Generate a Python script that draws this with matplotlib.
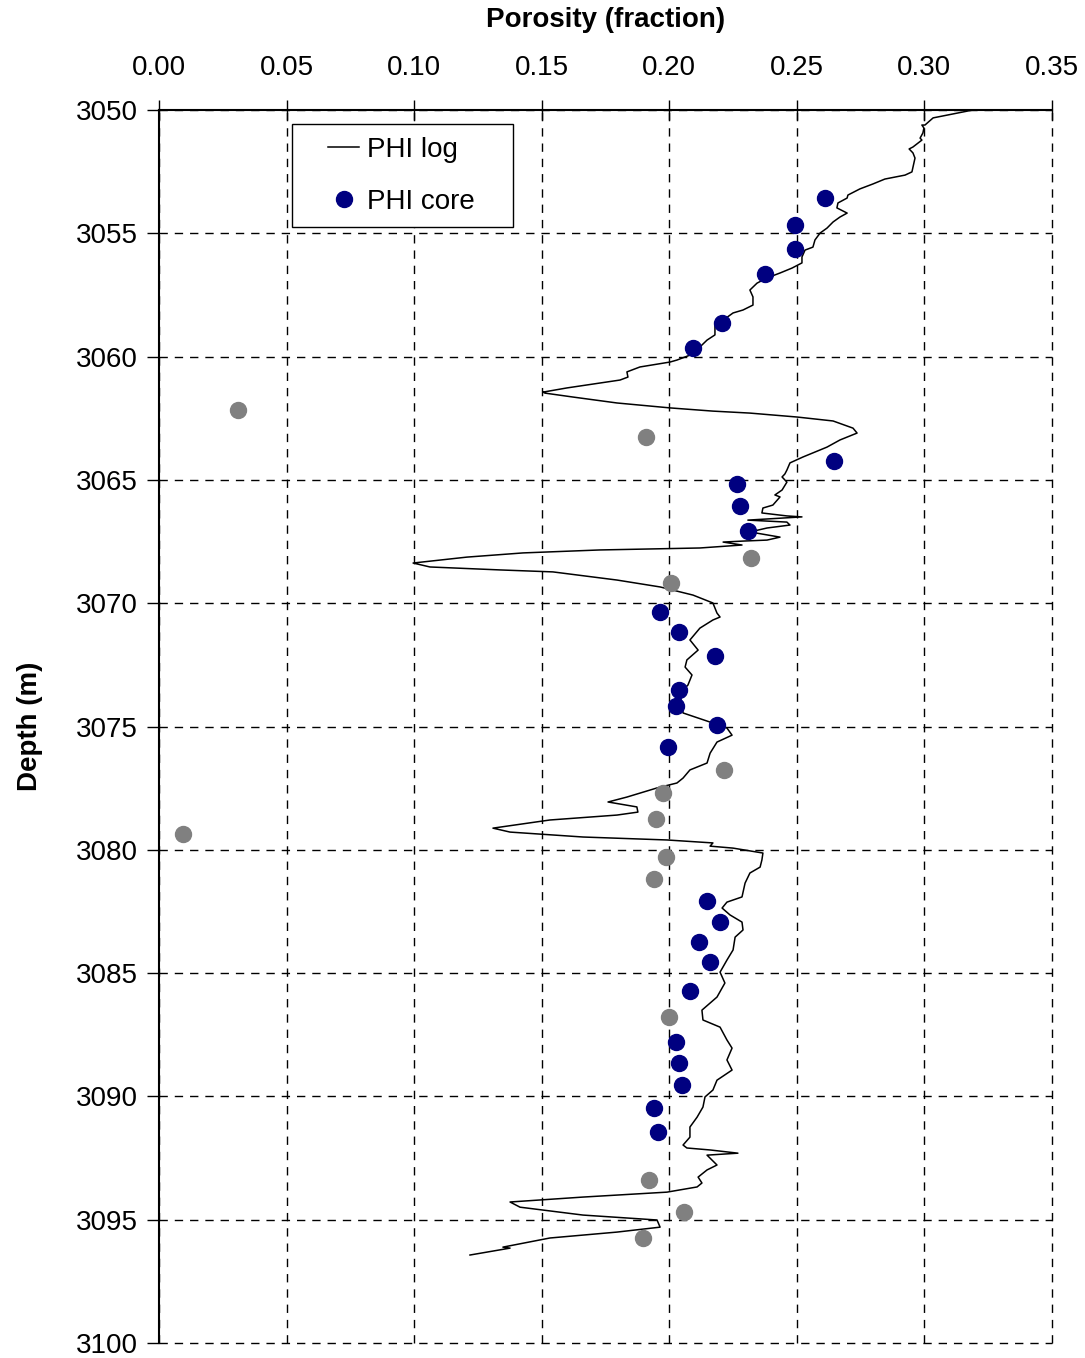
import matplotlib
matplotlib.use('Agg')
import matplotlib.pyplot as plt
from matplotlib.legend_handler import HandlerLine2D

# PHI log trace (depth in m, porosity as fraction)
log_depth = [
    3050.00, 3050.32, 3050.61, 3050.61, 3050.73, 3050.93, 3051.14, 3051.22, 3051.34, 3051.50,
    3051.58, 3051.74, 3051.95, 3052.31, 3052.51, 3052.64, 3052.72, 3052.80, 3053.00, 3053.20,
    3053.45, 3053.57, 3053.77, 3053.97, 3054.18, 3054.34, 3054.54, 3054.79, 3054.99, 3055.27,
    3055.56, 3055.68, 3055.96, 3056.20, 3056.41, 3056.61, 3056.81, 3057.02, 3057.30, 3057.58,
    3057.91, 3058.11, 3058.23, 3058.52, 3058.72, 3059.12, 3059.33, 3059.61, 3059.94, 3060.14,
    3060.22, 3060.42, 3060.62, 3060.83, 3060.95, 3061.07, 3061.27, 3061.44, 3061.48, 3061.64,
    3061.88, 3062.08, 3062.21, 3062.29, 3062.45, 3062.61, 3062.90, 3063.10, 3063.38, 3063.67,
    3064.07, 3064.31, 3064.60, 3064.76, 3064.88, 3065.09, 3065.41, 3065.61, 3065.69, 3066.02,
    3066.14, 3066.34, 3066.46, 3066.50, 3066.63, 3066.71, 3066.83, 3066.95, 3067.11, 3067.32,
    3067.44, 3067.48, 3067.52, 3067.64, 3067.76, 3067.84, 3067.96, 3068.13, 3068.37, 3068.53,
    3068.65, 3068.73, 3069.06, 3069.34, 3069.67, 3069.99, 3070.40, 3070.56, 3070.68, 3071.01,
    3071.49, 3071.90, 3072.30, 3072.59, 3072.91, 3073.32, 3073.64, 3074.45, 3074.82, 3075.06,
    3075.35, 3075.63, 3076.08, 3076.48, 3076.76, 3077.09, 3077.29, 3077.49, 3077.86, 3078.06,
    3078.26, 3078.47, 3078.59, 3078.79, 3079.12, 3079.28, 3079.48, 3079.60, 3079.72, 3079.85,
    3079.93, 3080.13, 3080.41, 3080.70, 3080.94, 3081.35, 3081.91, 3082.12, 3082.36, 3082.64,
    3082.93, 3083.25, 3083.54, 3084.06, 3084.47, 3084.96, 3085.40, 3085.97, 3086.21, 3086.50,
    3086.90, 3087.19, 3087.71, 3088.04, 3088.52, 3088.93, 3089.34, 3089.74, 3090.02, 3090.43,
    3090.84, 3091.24, 3091.65, 3091.97, 3092.09, 3092.17, 3092.30, 3092.38, 3092.78, 3092.98,
    3093.27, 3093.51, 3093.67, 3093.88, 3094.08, 3094.28, 3094.49, 3094.81, 3095.01, 3095.30,
    3095.50, 3095.74, 3096.11, 3096.15, 3096.43,
]
log_phi = [
    0.3190, 0.3034, 0.3002, 0.2990, 0.2998, 0.2994, 0.2983, 0.2990, 0.2975, 0.2955,
    0.2940, 0.2955, 0.2963, 0.2955, 0.2951, 0.2924, 0.2885, 0.2845, 0.2798, 0.2747,
    0.2700, 0.2697, 0.2661, 0.2657, 0.2697, 0.2669, 0.2642, 0.2618, 0.2591, 0.2571,
    0.2563, 0.2532, 0.2520, 0.2520, 0.2481, 0.2434, 0.2383, 0.2344, 0.2316, 0.2328,
    0.2328, 0.2289, 0.2250, 0.2211, 0.2179, 0.2179, 0.2148, 0.2120, 0.2081, 0.2030,
    0.2003, 0.1885, 0.1834, 0.1838, 0.1807, 0.1728, 0.1599, 0.1505, 0.1513, 0.1623,
    0.1795, 0.2003, 0.2171, 0.2316, 0.2501, 0.2642, 0.2720, 0.2736, 0.2669, 0.2618,
    0.2524, 0.2473, 0.2461, 0.2453, 0.2442, 0.2461, 0.2442, 0.2414, 0.2434, 0.2406,
    0.2367, 0.2363, 0.2461, 0.2520, 0.2308, 0.2461, 0.2473, 0.2383, 0.2316, 0.2434,
    0.2383, 0.2289, 0.2211, 0.2285, 0.2120, 0.1728, 0.1427, 0.1207, 0.0996, 0.1062,
    0.1337, 0.1544, 0.1795, 0.1964, 0.2093, 0.2171, 0.2187, 0.2199, 0.2171, 0.2120,
    0.2081, 0.2113, 0.2069, 0.2062, 0.2089, 0.2073, 0.2042, 0.2054, 0.2160, 0.2226,
    0.2246, 0.2187, 0.2160, 0.2148, 0.2081, 0.2054, 0.2030, 0.1952, 0.1834, 0.1760,
    0.1873, 0.1877, 0.1795, 0.1532, 0.1309, 0.1376, 0.1662, 0.1991, 0.2171, 0.2160,
    0.2250, 0.2367, 0.2363, 0.2356, 0.2316, 0.2297, 0.2285, 0.2226, 0.2207, 0.2238,
    0.2285, 0.2289, 0.2258, 0.2250, 0.2226, 0.2199, 0.2218, 0.2187, 0.2160, 0.2128,
    0.2132, 0.2199, 0.2226, 0.2246, 0.2226, 0.2246, 0.2187, 0.2171, 0.2140, 0.2132,
    0.2109, 0.2081, 0.2081, 0.2054, 0.2069, 0.2160, 0.2269, 0.2148, 0.2187, 0.2148,
    0.2113, 0.2128, 0.2109, 0.1991, 0.1662, 0.1376, 0.1415, 0.1662, 0.1952, 0.1964,
    0.1795, 0.1532, 0.1348, 0.1376, 0.1219,
]

# core plugs kept (blue)
core_depth = [3053.57, 3054.66, 3055.64, 3056.65, 3058.64, 3059.65, 3064.23, 3065.17, 3066.06,
              3067.07, 3070.36, 3071.17, 3072.14, 3073.52, 3074.17, 3074.94, 3075.83, 3082.08,
              3082.93, 3083.74, 3084.55, 3085.73, 3087.79, 3088.65, 3089.54, 3090.47, 3091.44]
core_phi = [0.2610, 0.2493, 0.2493, 0.2375, 0.2207, 0.2093, 0.2646, 0.2265, 0.2277,
            0.2309, 0.1964, 0.2038, 0.2179, 0.2038, 0.2026, 0.2187, 0.1995, 0.2148,
            0.2199, 0.2116, 0.2160, 0.2081, 0.2026, 0.2038, 0.2050, 0.1940, 0.1956]

# other core plugs (grey, not in legend)
grey_depth = [3062.17, 3063.26, 3068.17, 3069.18, 3076.76, 3077.70, 3078.75, 3079.36,
              3080.29, 3081.18, 3086.78, 3093.39, 3094.69, 3095.74]
grey_phi = [0.0310, 0.1909, 0.2320, 0.2007, 0.2214, 0.1975, 0.1948, 0.0094,
            0.1987, 0.1940, 0.1999, 0.1920, 0.2058, 0.1897]

x_ticks = [0.00, 0.05, 0.10, 0.15, 0.20, 0.25, 0.30, 0.35]
y_ticks = [3050, 3055, 3060, 3065, 3070, 3075, 3080, 3085, 3090, 3095, 3100]

plt.rcParams['font.family'] = ['Liberation Sans', 'DejaVu Sans']

fig = plt.figure(figsize=(10.85, 13.58), dpi=100)
ax = fig.add_axes([0.1465, 0.011, 0.8231, 0.908])

ax.plot(log_phi, log_depth, color='black', lw=1.1, label='PHI log')
ax.plot(core_phi, core_depth, 'o', color='#000080', ms=11.5, label='PHI core')
ax.plot(grey_phi, grey_depth, 'o', color='#808080', ms=11.5, label='_nolegend_')

ax.set_xlim(0, 0.35)
ax.set_ylim(3100, 3050)
ax.set_xticks(x_ticks)
ax.set_xticklabels([f'{t:.2f}' for t in x_ticks])
ax.set_yticks(y_ticks)

ax.xaxis.tick_top()
ax.xaxis.set_label_position('top')
ax.tick_params(axis='x', direction='inout', length=14, width=1, labelsize=20, pad=14)
ax.tick_params(axis='y', direction='out', length=9, width=1, labelsize=20, pad=6)
ax.set_xlabel('Porosity (fraction)', fontsize=20, fontweight='bold', labelpad=20)
ax.set_ylabel('Depth (m)', fontsize=20, fontweight='bold', labelpad=24)

ax.grid(True, color='black', linestyle=(0, (6, 5)), linewidth=1)
for gl in ax.get_xgridlines() + ax.get_ygridlines():
    gl.set_clip_on(False)
ax.set_axisbelow(True)
for side in ['right', 'bottom']:
    ax.spines[side].set_visible(False)
ax.spines['left'].set_linewidth(1.5)
ax.spines['top'].set_linewidth(1.5)

# legend: handle sits in the right part of its slot, box stretched to the reference width
leg = ax.legend(loc='upper left', bbox_to_anchor=(0.149, 0.904, 0.247, 0.0846), mode='expand',
                borderaxespad=0, fancybox=False, edgecolor='black', framealpha=1, fontsize=20,
                handlelength=1.95, labelspacing=0.95, borderpad=0.45, handletextpad=0.3,
                handler_map={plt.Line2D: HandlerLine2D(xpad=0.86)})
leg.get_frame().set_linewidth(1)

fig.savefig('out.png', dpi=100)
